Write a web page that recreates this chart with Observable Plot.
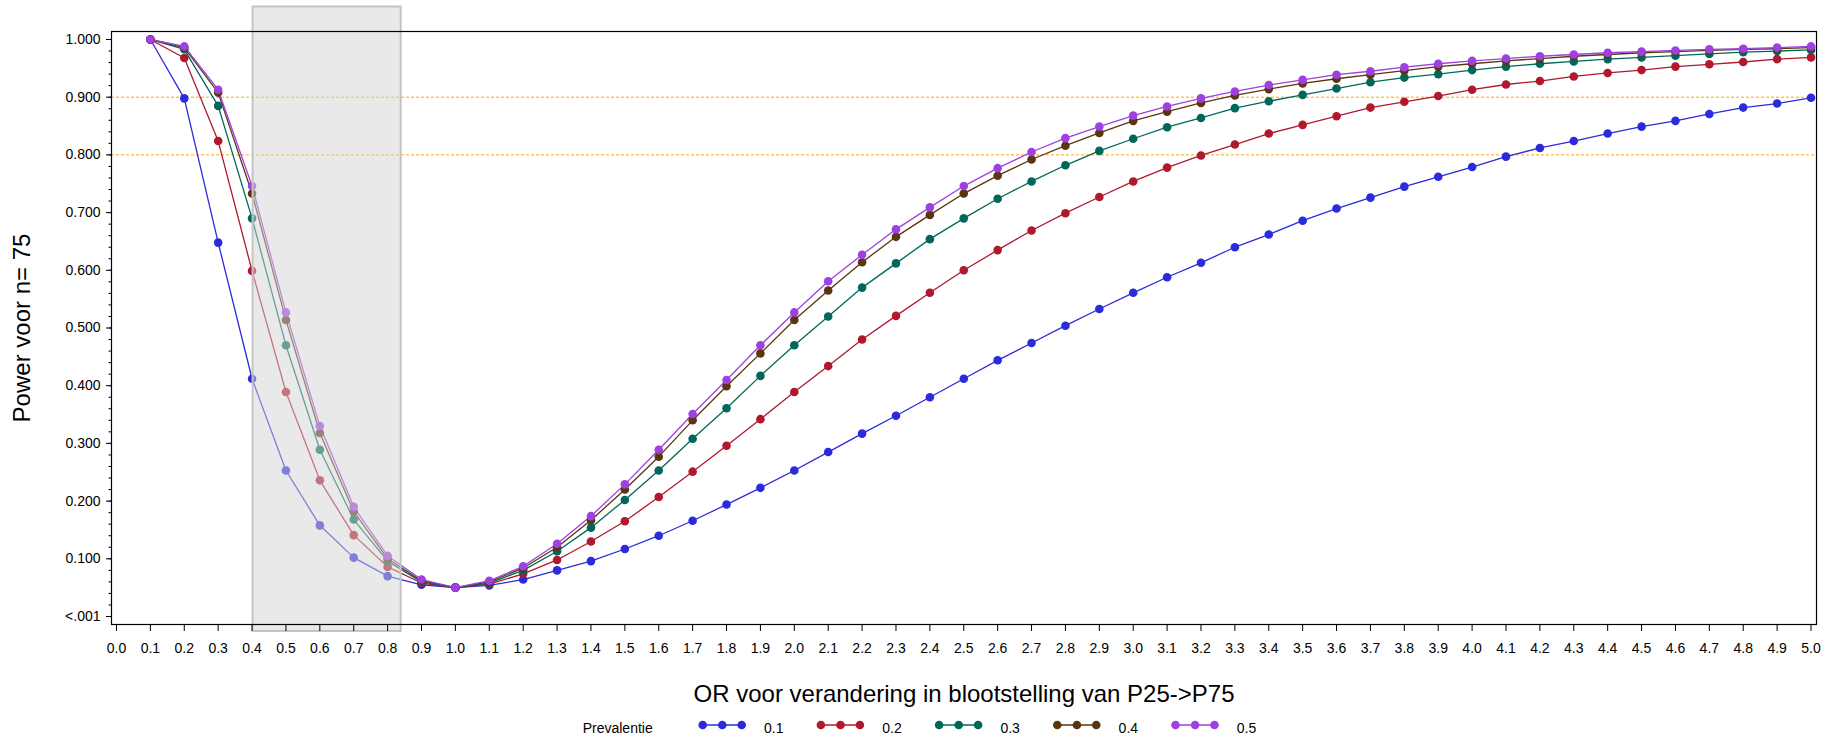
<!DOCTYPE html>
<html>
<head>
<meta charset="utf-8">
<script src="https://cdn.jsdelivr.net/npm/d3@7"></script>
<script src="https://cdn.jsdelivr.net/npm/@observablehq/plot@0.6"></script>
<style>
  html, body { margin: 0; padding: 0; background: #fff; }
  body { width: 1834px; height: 739px; overflow: hidden; font-family: "Liberation Sans", Arial, sans-serif; }
  #chart svg { display: block; }
  #chart g[aria-label="x-axis label"] text, #chart g[aria-label="y-axis label"] text { font-size: 24px; }
  #legend { display: block; }
</style>
</head>
<body>
<div id="chart"></div>
<svg id="legend" width="1834" height="31"></svg>
<script>
// OR values (x) and power per prevalence series
const orValues = [0.1,0.2,0.3,0.4,0.5,0.6,0.7,0.8,0.9,1.0,1.1,1.2,1.3,1.4,1.5,1.6,1.7,1.8,1.9,2.0,2.1,2.2,2.3,2.4,2.5,2.6,2.7,2.8,2.9,3.0,3.1,3.2,3.3,3.4,3.5,3.6,3.7,3.8,3.9,4.0,4.1,4.2,4.3,4.4,4.5,4.6,4.7,4.8,4.9,5.0];
const prevalences = ["0.1", "0.2", "0.3", "0.4", "0.5"];
const power01 = [1.000,0.898,0.648,0.412,0.253,0.158,0.102,0.070,0.055,0.050,0.054,0.064,0.080,0.096,0.117,0.140,0.166,0.194,0.223,0.253,0.285,0.317,0.348,0.380,0.412,0.444,0.474,0.504,0.533,0.561,0.588,0.613,0.640,0.662,0.686,0.707,0.726,0.745,0.762,0.779,0.797,0.812,0.824,0.837,0.849,0.859,0.871,0.882,0.889,0.899];
const power02 = [1.000,0.968,0.824,0.599,0.389,0.236,0.141,0.086,0.058,0.050,0.056,0.074,0.098,0.130,0.165,0.207,0.251,0.296,0.342,0.389,0.434,0.480,0.521,0.561,0.600,0.635,0.669,0.699,0.727,0.754,0.778,0.799,0.818,0.837,0.852,0.867,0.882,0.892,0.902,0.913,0.922,0.928,0.936,0.942,0.947,0.953,0.957,0.961,0.966,0.969];
const power03 = [1.000,0.983,0.885,0.690,0.470,0.289,0.168,0.096,0.060,0.050,0.058,0.080,0.113,0.154,0.202,0.253,0.308,0.361,0.417,0.470,0.520,0.570,0.612,0.654,0.690,0.724,0.754,0.782,0.807,0.828,0.848,0.864,0.881,0.893,0.904,0.915,0.926,0.934,0.940,0.947,0.953,0.958,0.962,0.966,0.969,0.972,0.975,0.978,0.980,0.982];
const power04 = [1.000,0.986,0.908,0.733,0.514,0.318,0.182,0.100,0.062,0.050,0.060,0.084,0.120,0.167,0.220,0.277,0.340,0.399,0.456,0.514,0.565,0.614,0.658,0.696,0.733,0.764,0.792,0.816,0.838,0.859,0.875,0.890,0.903,0.914,0.924,0.932,0.939,0.946,0.953,0.958,0.963,0.967,0.971,0.974,0.977,0.979,0.981,0.983,0.984,0.986];
const power05 = [1.000,0.988,0.913,0.746,0.527,0.330,0.190,0.105,0.064,0.050,0.062,0.087,0.126,0.174,0.229,0.289,0.351,0.410,0.470,0.527,0.581,0.627,0.671,0.709,0.746,0.777,0.805,0.829,0.849,0.868,0.884,0.898,0.910,0.921,0.930,0.939,0.945,0.952,0.958,0.963,0.967,0.971,0.974,0.977,0.979,0.981,0.983,0.984,0.986,0.988];
const referenceLines = [0.8, 0.9];
const highlightBand = [0.403, 0.840];
const xTicks = d3.range(0, 51).map(i => i / 10);
const yTicks = d3.range(0, 11).map(i => i / 10);
const yMinorTicks = d3.range(0, 51).map(i => i / 50);
const yTickLabel = v => v === 0 ? "<.001" : d3.format(".3f")(v);

const seriesPower = [power01, power02, power03, power04, power05];
const colors = ["#2b2bdc", "#b0182e", "#00685a", "#5a3510", "#9f40e0"];

const data = prevalences.flatMap((p, s) =>
  orValues.map((or, i) => ({or, power: seriesPower[s][i], prev: p}))
);

const chart = Plot.plot({
  width: 1834,
  height: 708,
  marginLeft: 111,
  marginRight: 18,
  marginTop: 31,
  marginBottom: 84,
  style: {fontFamily: '"Liberation Sans", Arial, sans-serif', fontSize: "14px", color: "#000", background: "#fff"},
  x: {domain: [-0.01475, 5.0162]},
  y: {domain: [-0.01386, 1.01386]},
  color: {domain: prevalences, range: colors},
  marks: [
    Plot.ruleY(referenceLines, {stroke: "#ffa500", strokeWidth: 1, strokeDasharray: "3,2"}),
    Plot.line(data, {x: "or", y: "power", z: "prev", stroke: "prev", strokeWidth: 1.3}),
    Plot.dot(data, {x: "or", y: "power", fill: "prev", r: 4.3, stroke: "none"}),
    Plot.rect([highlightBand], {x1: d => d[0], x2: d => d[1], fill: "#d4d4d4", fillOpacity: 0.5, stroke: "#c4c4c4", strokeWidth: 2, insetTop: -24.5, insetBottom: -7}),
    Plot.frame({stroke: "#000", strokeWidth: 1.2}),
    Plot.axisY({ticks: yMinorTicks, tickSize: 2.5, text: null, label: null}),
    Plot.axisY({ticks: yTicks, tickSize: 5, tickPadding: 6, tickFormat: yTickLabel,
      label: "Power voor n= 75", labelAnchor: "center", labelOffset: 99, labelArrow: false}),
    Plot.axisX({ticks: xTicks, tickSize: 7, tickPadding: 12, tickFormat: d3.format(".1f"),
      label: "OR voor verandering in blootstelling van P25->P75", labelAnchor: "center", labelOffset: 77, labelArrow: false})
  ]
});
document.getElementById("chart").appendChild(chart);

// Legend below the chart
const legend = d3.select("#legend");
legend.append("text")
  .attr("x", 582.7).attr("y", 25)
  .attr("font-family", '"Liberation Sans", Arial, sans-serif').attr("font-size", 14)
  .text("Prevalentie");
prevalences.forEach((p, i) => {
  const g = legend.append("g").attr("transform", `translate(${699 + i * 118.2},0)`);
  g.append("line").attr("x1", 3.7).attr("x2", 42.7).attr("y1", 17).attr("y2", 17)
    .attr("stroke", colors[i]).attr("stroke-width", 1.3);
  [3.7, 23.3, 42.7].forEach(cx => g.append("circle").attr("cx", cx).attr("cy", 17).attr("r", 4.3).attr("fill", colors[i]));
  g.append("text").attr("x", 65).attr("y", 25)
    .attr("font-family", '"Liberation Sans", Arial, sans-serif').attr("font-size", 14)
    .text(p);
});
</script>
</body>
</html>
